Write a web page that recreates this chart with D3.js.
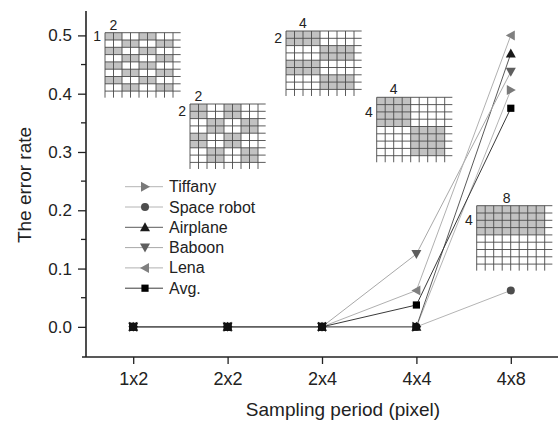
<!DOCTYPE html>
<html>
<head>
<meta charset="utf-8">
<script src="https://d3js.org/d3.v7.min.js"></script>
<style>
  body { margin:0; background:#fff; }
  svg text { font-family: "Liberation Sans", Arial, sans-serif; fill:#222; }
</style>
</head>
<body>
<svg id="chart" width="560" height="424"></svg>
<script>
// data
var periods = ["1x2", "2x2", "2x4", "4x4", "4x8"];
var seriesNames = ["Tiffany", "Space robot", "Airplane", "Baboon", "Lena", "Avg."];
var tiffany    = [0, 0, 0, 0,      0.40625];
var spaceRobot = [0, 0, 0, 0,      0.0625];
var airplane   = [0, 0, 0, 0,      0.46875];
var baboon     = [0, 0, 0, 0.125,  0.4375];
var lena       = [0, 0, 0, 0.0625, 0.5];
var avg        = [0, 0, 0, 0.0375, 0.375];
var yTicks = [0, 0.1, 0.2, 0.3, 0.4, 0.5];
var yMinor = [0.05, 0.15, 0.25, 0.35, 0.45];
// sampling block sizes for the inset sketches (width x height in pixels)
var blockW = [2, 2, 4, 4, 8];
var blockH = [1, 2, 2, 4, 4];

var seriesValues = [tiffany, spaceRobot, airplane, baboon, lena, avg];
var markers = ["right", "circle", "up", "down", "left", "square"];
var markerFill = ["#7a7a7a", "#4d4d4d", "#1a1a1a", "#5e5e5e", "#808080", "#000"];
var lineColor = ["#b4b4b4", "#b4b4b4", "#5a5a5a", "#a8a8a8", "#b0b0b0", "#3a3a3a"];

var svg = d3.select("#chart");

var x = d3.scalePoint().domain(periods).range([86, 558]).padding(0.5);
var y = d3.scaleLinear().domain([-0.05, 0.535]).range([356, 15]);

// inset sketches of the sampling blocks
var insetPos = [[105, 32.7], [190, 104], [286, 31], [376.7, 97.3], [476.7, 205.7]];
var cw = 8.5, ch = 7.3, n = 8;
blockW.forEach(function(bw, k){
  var bh = blockH[k];
  var g = svg.append("g").attr("transform", "translate(" + insetPos[k][0] + "," + insetPos[k][1] + ")");
  var cells = [];
  for (var r = 0; r < n; r++) for (var c = 0; c < n; c++) {
    if ((Math.floor(r / bh) + Math.floor(c / bw)) % 2 == 0) cells.push([r, c]);
  }
  g.selectAll("rect").data(cells).enter().append("rect")
    .attr("x", function(d){ return d[1] * cw; })
    .attr("y", function(d){ return d[0] * ch; })
    .attr("width", cw).attr("height", ch)
    .attr("fill", "#c2c2c2");
  for (var i = 0; i <= n; i++) {
    g.append("line").attr("x1", i * cw).attr("x2", i * cw)
      .attr("y1", 0).attr("y2", n * ch + ch * 0.9)
      .attr("stroke", "#4a4a4a").attr("stroke-width", 0.9);
    g.append("line").attr("y1", i * ch).attr("y2", i * ch)
      .attr("x1", 0).attr("x2", n * cw + cw * 0.9)
      .attr("stroke", "#4a4a4a").attr("stroke-width", 0.9);
  }
  g.append("text").attr("x", Math.min(bw, 4) * cw / 2 + (bw > 4 ? 13 : 0)).attr("y", -3)
    .attr("text-anchor", "middle").style("font-size", "14px").text(bw);
  g.append("text").attr("x", -4).attr("y", bh * ch / 2)
    .attr("text-anchor", "end").attr("dominant-baseline", "central")
    .style("font-size", "14px").text(bh);
});

// axes
var yAxis = d3.axisLeft(y).tickValues(yTicks).tickSize(8).tickSizeOuter(0).tickPadding(6)
  .tickFormat(d3.format(".1f"));
var gy = svg.append("g").attr("transform", "translate(86,0)").call(yAxis);
gy.select(".domain").remove();
gy.selectAll("text").style("font-size", "17px").attr("fill", "#222");
gy.selectAll("line").attr("stroke", "#222").attr("stroke-width", 1.3);
svg.selectAll(".minor").data(yMinor).enter().append("line")
  .attr("x1", 81).attr("x2", 86)
  .attr("y1", function(d){ return y(d); }).attr("y2", function(d){ return y(d); })
  .attr("stroke", "#222").attr("stroke-width", 1.3);

var xAxis = d3.axisBottom(x).tickSize(7).tickSizeOuter(0).tickPadding(8);
var gx = svg.append("g").attr("transform", "translate(0,357)").call(xAxis);
gx.select(".domain").remove();
gx.selectAll("text").style("font-size", "18px").attr("fill", "#222");
gx.selectAll("line").attr("stroke", "#222").attr("stroke-width", 1.3);

svg.append("line").attr("x1", 86).attr("x2", 86).attr("y1", 11).attr("y2", 357)
  .attr("stroke", "#222").attr("stroke-width", 1.6);
svg.append("line").attr("x1", 82).attr("x2", 558).attr("y1", 357).attr("y2", 357)
  .attr("stroke", "#222").attr("stroke-width", 1.6);

svg.append("text").attr("x", 343).attr("y", 416).attr("text-anchor", "middle")
  .style("font-size", "19px").text("Sampling period (pixel)");
svg.append("text").attr("transform", "translate(31,185) rotate(-90)")
  .attr("text-anchor", "middle").style("font-size", "19px").text("The error rate");

// markers
function marker(sel, type, fill) {
  var s = 5;
  if (type == "circle") {
    sel.append("circle").attr("r", 4).attr("fill", fill);
  } else if (type == "square") {
    sel.append("rect").attr("x", -3.6).attr("y", -3.6).attr("width", 7.2).attr("height", 7.2).attr("fill", fill);
  } else {
    var pts = {
      up:    [[0, -s], [s, s * 0.8], [-s, s * 0.8]],
      down:  [[0, s], [s, -s * 0.8], [-s, -s * 0.8]],
      right: [[s, 0], [-s * 0.8, -s], [-s * 0.8, s]],
      left:  [[-s, 0], [s * 0.8, -s], [s * 0.8, s]]
    }[type];
    sel.append("path").attr("d", "M" + pts.join("L") + "Z").attr("fill", fill);
  }
}

var line = d3.line().x(function(d, i){ return x(periods[i]); }).y(function(d){ return y(d); });
seriesValues.forEach(function(vals, k){
  svg.append("path").datum(vals).attr("d", line)
    .attr("fill", "none").attr("stroke", lineColor[k]).attr("stroke-width", 1);
});
seriesValues.forEach(function(vals, k){
  vals.forEach(function(v, i){
    var g = svg.append("g").attr("transform", "translate(" + x(periods[i]) + "," + y(v) + ")");
    // overlapping markers at zero read as one black blob in the original
    marker(g, markers[k], v == 0 ? "#111" : markerFill[k]);
  });
});

// legend
var legend = svg.append("g");
seriesNames.forEach(function(name, k){
  var ly = 186.7 + k * 20.3;
  legend.append("line").attr("x1", 125).attr("x2", 163).attr("y1", ly).attr("y2", ly)
    .attr("stroke", lineColor[k]).attr("stroke-width", 1);
  var g = legend.append("g").attr("transform", "translate(145," + ly + ")");
  marker(g, markers[k], markerFill[k]);
  legend.append("text").attr("x", 169).attr("y", ly).attr("dominant-baseline", "central")
    .style("font-size", "16px").text(name);
});
</script>
</body>
</html>
